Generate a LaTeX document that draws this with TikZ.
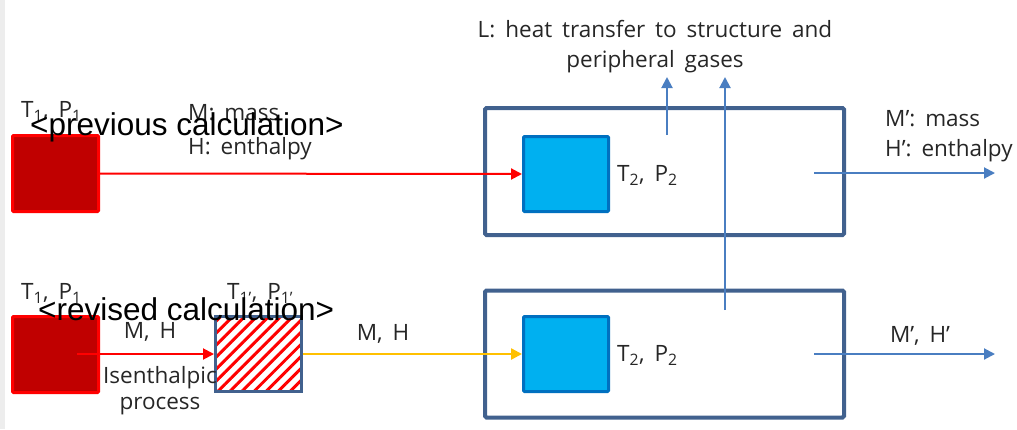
\documentclass[tikz,border=0pt]{standalone}
\usepackage{fontspec}
\setmainfont{Open Sans}[WordSpace=1.7]
\newfontfamily\headfont{Liberation Sans}
\usetikzlibrary{arrows.meta, patterns.meta}

\definecolor{boxline}{RGB}{65,97,142}
\definecolor{flowblue}{RGB}{74,126,193}
\definecolor{hotred}{RGB}{192,0,0}
\definecolor{cellblue}{RGB}{0,176,240}
\definecolor{cellline}{RGB}{0,112,192}
\definecolor{warmflow}{RGB}{255,192,0}

\begin{document}
\begin{tikzpicture}[x=1pt, y=-1pt,
    lbl/.style={inner sep=0pt, text=black!85, font=\fontsize{22.5}{30}\selectfont},
    head/.style={inner sep=0pt, anchor=base west, font=\headfont\fontsize{31.5}{36}\selectfont},
    source/.style={draw=red, fill=hotred, line width=3pt, rounded corners=1pt,
      minimum width=86pt, minimum height=76pt, inner sep=0pt},
    valve/.style={draw=boxline, line width=3pt, minimum width=86pt, minimum height=75pt, inner sep=0pt,
      pattern={Lines[angle=45, distance=8.5pt, line width=3pt]}, pattern color=red},
    cell/.style={draw=cellline, fill=cellblue, line width=3pt, rounded corners=1pt,
      minimum width=85pt, minimum height=75pt, inner sep=0pt},
    volume/.style={draw=boxline, line width=4pt, rounded corners=1.5pt,
      minimum width=359pt, minimum height=127pt, inner sep=0pt},
    flow/.style={line width=2pt, -{Triangle[length=11pt, width=11pt]}},
  ]
  \useasboundingbox (0,0) rectangle (1017,429);
  \fill[black!7] (0,0) rectangle (5,429);

  % previous calculation
  \node[volume] (volA) at (664.5,171.5) {};
  \node[cell]   (cellA) at (566,174) {};
  \node[source] (srcA) at (55.5,173.5) {};
  % revised calculation
  \node[volume] (volB) at (664.5,354) {};
  \node[cell]   (cellB) at (566,354) {};
  \node[source] (srcB) at (55.5,354.5) {};
  \node[valve]  (valveB) at (258.5,354) {};

  \coordinate (isoIn)    at (77,354);
  \coordinate (lossA)    at (667,135);
  \coordinate (lossAtip) at (667,77);
  \coordinate (lossB)    at (725,310);
  \coordinate (lossBtip) at (725,77);
  \coordinate (outA)     at (814,173);
  \coordinate (outAtip)  at (995,173);
  \coordinate (outB)     at (814,354);
  \coordinate (outBtip)  at (995,354);

  \draw[flow, red] (srcA.east) -- (cellA.west);
  \draw[flow, red] (isoIn) -- (valveB.west);
  \draw[flow, warmflow, line width=2.5pt] (valveB.east) -- (cellB.west);
  \draw[flow, flowblue] (lossA) -- (lossAtip);
  \draw[flow, flowblue] (lossB) -- (lossBtip);
  \draw[flow, flowblue] (outA) -- (outAtip);
  \draw[flow, flowblue] (outB) -- (outBtip);

  \node[lbl, align=center, anchor=north] (heatlbl) at (655,20)
    {L: heat transfer to structure and\\peripheral gases};
  \node[lbl, anchor=base west] (tpA) at (21,117) {T\textsubscript{1}, P\textsubscript{1}};
  \node[lbl, anchor=north west, align=left, font=\fontsize{22.5}{34}\selectfont] (massA) at (188,104)
    {M: mass\\H: enthalpy};
  \node[lbl, anchor=base west] (tpcA) at (617,181) {T\textsubscript{2}, P\textsubscript{2}};
  \node[lbl, anchor=north west, align=left] (massoutA) at (885,110)
    {M’: mass\\H’: enthalpy};

  \node[lbl, anchor=base west] (tpB) at (21,299) {T\textsubscript{1}, P\textsubscript{1}};
  \node[lbl, anchor=base west] (tpvB) at (227,299) {T\textsubscript{1’}, P\textsubscript{1’}};
  \node[lbl, anchor=base] (mhB) at (150,338) {M, H};
  \node[lbl, align=center, anchor=north, font=\fontsize{22.5}{26}\selectfont] (isolbl) at (160,366)
    {Isenthalpic\\process};
  \node[lbl, anchor=base] (mhcB) at (383,340) {M, H};
  \node[lbl, anchor=base west] (tpcB) at (617,361) {T\textsubscript{2}, P\textsubscript{2}};
  \node[lbl, anchor=base] (mhoutB) at (920,342) {M’, H’};

  \node[head] (prevhead) at (30,135) {<previous calculation>};
  \node[head] (revhead) at (38,320) {<revised calculation>};
\end{tikzpicture}
\end{document}
